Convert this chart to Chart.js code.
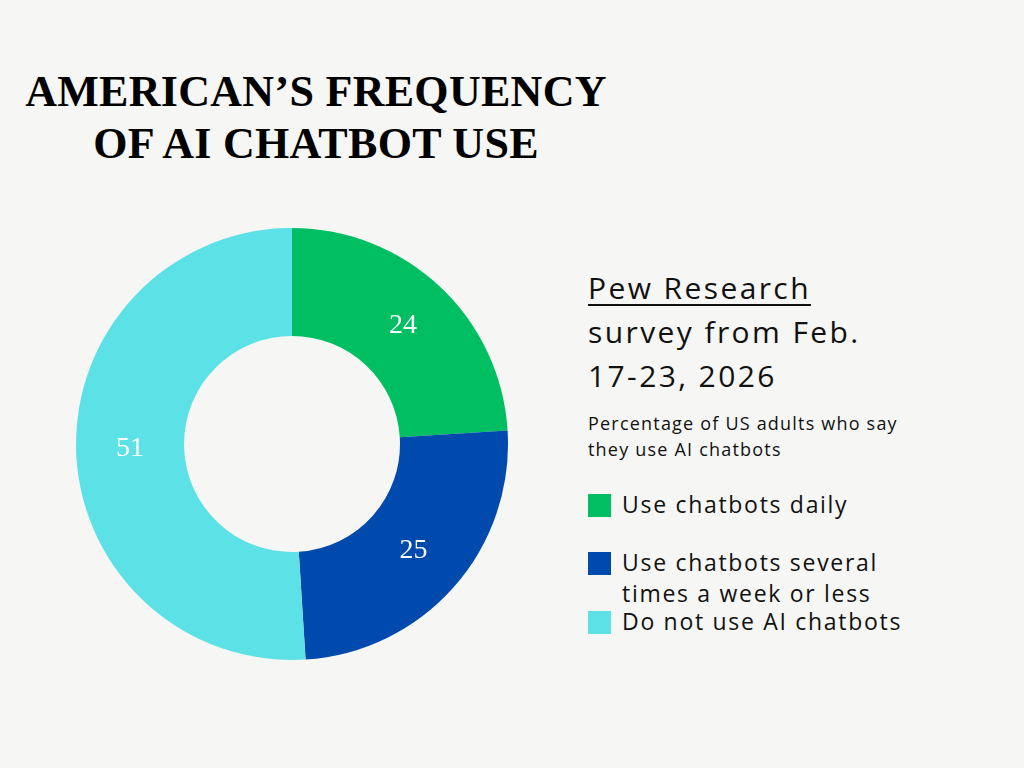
<!DOCTYPE html>
<html>
<head>
<meta charset="utf-8">
<script src="https://cdn.jsdelivr.net/npm/chart.js@4.4.1/dist/chart.umd.min.js"></script>
<style>
  html, body { margin: 0; padding: 0; }
  body { width: 1024px; height: 768px; background: #f6f6f4; position: relative; overflow: hidden; font-family: "Open Sans", sans-serif; color: #111; }
  #title { position: absolute; left: 0; top: 66px; width: 632px; text-align: center; white-space: nowrap; font-family: "Liberation Serif", serif; font-weight: bold; font-size: 44px; line-height: 52px; letter-spacing: 0.3px; color: #000; }
  #chartBox { position: absolute; left: 72px; top: 224px; width: 440px; height: 440px; }
  #source { position: absolute; left: 588px; top: 266px; white-space: nowrap; font-size: 30px; line-height: 44px; letter-spacing: 2.4px; color: #111; }
  #source u { text-decoration-thickness: 2px; text-underline-offset: 5px; }
  #note { position: absolute; left: 588px; top: 410px; white-space: nowrap; font-size: 18px; line-height: 26px; letter-spacing: 1.2px; color: #111; }
  #legend { position: absolute; left: 588px; top: 486px; }
  .item { position: absolute; left: 0; white-space: nowrap; font-size: 23px; line-height: 31px; letter-spacing: 1.7px; }
  .item span.box { position: absolute; left: 0; top: 5px; width: 23px; height: 23px; }
  .item span.txt { position: absolute; left: 34px; top: 0; }
</style>
</head>
<body>
<div id="title">AMERICAN’S FREQUENCY<br>OF AI CHATBOT USE</div>
<div id="chartBox"><canvas id="donut"></canvas></div>
<div id="source"><u>Pew Research</u><br>survey from Feb.<br>17-23, 2026</div>
<div id="note">Percentage of US adults who say<br>they use AI chatbots</div>
<div id="legend"></div>
<script>
const CATEGORIES = ['Use chatbots daily', 'Use chatbots several times a week or less', 'Do not use AI chatbots'];
const LEGEND_LINES = [['Use chatbots daily'], ['Use chatbots several', 'times a week or less'], ['Do not use AI chatbots']];
const VALUES = [24, 25, 51];
const COLORS = ['#00bf63', '#004aad', '#5ce1e6'];
const LEGEND_TOPS = [3, 61, 120];

// value labels drawn in the middle of each ring segment
const sliceLabels = {
    id: 'sliceLabels',
    afterDatasetsDraw(chart) {
        const ctx = chart.ctx;
        const meta = chart.getDatasetMeta(0);
        ctx.save();
        ctx.fillStyle = '#ffffff';
        ctx.font = '28px "Liberation Serif", serif';
        ctx.textAlign = 'center';
        ctx.textBaseline = 'middle';
        meta.data.forEach((arc, i) => {
            const p = arc.tooltipPosition();
            ctx.fillText(String(chart.data.datasets[0].data[i]), p.x, p.y);
        });
        ctx.restore();
    }
};

const donut = new Chart(document.getElementById('donut').getContext('2d'), {
    type: 'doughnut',
    data: {
        labels: CATEGORIES,
        datasets: [{ data: VALUES, backgroundColor: COLORS, borderWidth: 0 }]
    },
    options: {
        responsive: true,
        maintainAspectRatio: false,
        animation: false,
        cutout: '50%',
        layout: { padding: 4 },
        plugins: { legend: { display: false }, tooltip: { enabled: false } }
    },
    plugins: [sliceLabels]
});

// custom legend built from the chart's own labels and colours
const legendEl = document.getElementById('legend');
LEGEND_LINES.forEach((lines, i) => {
    const item = document.createElement('div');
    item.className = 'item';
    item.style.top = LEGEND_TOPS[i] + 'px';
    item.innerHTML = `<span class="box" style="background:${donut.data.datasets[0].backgroundColor[i]}"></span><span class="txt">${lines.join('<br>')}</span>`;
    legendEl.appendChild(item);
});
</script>
</body>
</html>
